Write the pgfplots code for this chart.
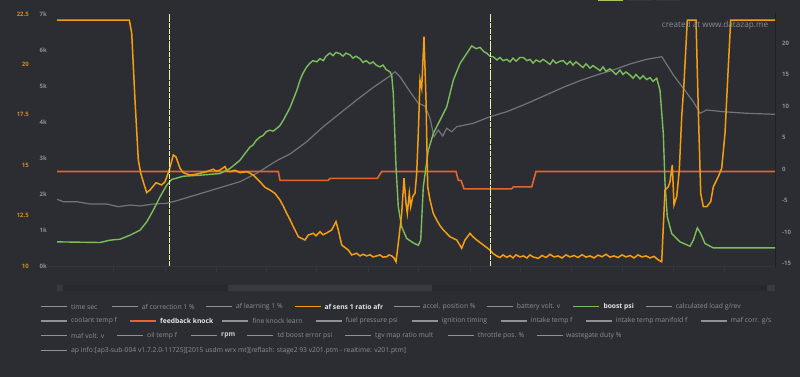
\documentclass[border=0pt]{standalone}
\usepackage{pgfplots}
\pgfplotsset{compat=1.18}
\usepackage{fontspec}
\setmainfont{Open Sans}
\definecolor{bg}{HTML}{2B2D32}
\definecolor{afr}{HTML}{F59E12}
\definecolor{boost}{HTML}{7CBE5A}
\definecolor{rpmc}{HTML}{727478}
\definecolor{knock}{HTML}{E4652F}
\definecolor{cursor}{HTML}{EEF5A0}
\definecolor{txt}{HTML}{8C9199}
\definecolor{legl}{HTML}{8E9197}
\definecolor{afrlab}{HTML}{D88C1E}
\definecolor{hi}{HTML}{E6E6E6}
\definecolor{hi2}{HTML}{D0D0D0}
\definecolor{track}{HTML}{26282D}
\definecolor{thumb}{HTML}{373A40}
\definecolor{tabg}{HTML}{A8C85A}
\definecolor{tabd}{HTML}{34363B}
\definecolor{faint}{HTML}{33363C}
\definecolor{axl}{HTML}{1E2024}
\definecolor{wm}{HTML}{8A8D93}
\pgfplotsset{base/.style={at={(57pt,111pt)}, anchor=south west, width=718pt, height=252pt,
  scale only axis, xmin=57, xmax=775, enlargelimits=false, hide x axis, axis x line=none,
  x axis line style={draw=none}, xtick=\empty,
  y axis line style={draw=none}, ytick style={draw=none}, major tick length=0pt,
  yticklabel style={font=\fontsize{6}{7}\selectfont\bfseries, inner sep=0pt}}}
\begin{document}
\begin{tikzpicture}[x=1pt,y=1pt]
\useasboundingbox (0,0) rectangle (800,377);
\fill[bg] (0,0) rectangle (800,377);
% top tabs
\fill[tabg] (598,375.6) rectangle (623,377);
\fill[tabd] (628,375.6) rectangle (652,377);
\fill[tabd] (657,375.6) rectangle (681,377);
% faint bottom line and ticks
\draw[faint, line width=0.6pt] (47,110.5) -- (775,110.5);
\foreach \xx in {113.3,165,216.7,266.7,316.7,368.3,418.3,470,520,571,622,673,724} {\draw[faint, line width=0.6pt] (\xx,105) -- (\xx,110.5);}
% right axis line
\draw[axl, line width=0.8pt] (775,110) -- (775,364);
% rpm axis
\begin{axis}[base, ymin=0, ymax=7000, axis y line*=left,
  ytick={0,1000,2000,3000,4000,5000,6000,7000},
  yticklabels={0k,1k,2k,3k,4k,5k,6k,7k},
  yticklabel style={anchor=east, xshift=-10pt, text=txt}]
\addplot[rpmc, line width=1.2pt] coordinates {
(57,1853)(63.3,1786)(76.7,1786)(90,1722)(106.7,1722)(118.3,1647)(130,1694)(140,1667)
(153.3,1722)(166.7,1742)(176.7,1814)(190,1925)(206.7,2064)(223.3,2203)(240,2342)
(256.7,2575)(276.7,2925)(290,3111)(300,3314)(306.7,3453)(323.3,3870)(340,4242)
(356.7,4611)(373.3,4964)(390,5278)(395,5397)(400,5259)(410,4842)(418.3,4520)(425,4444)
(430,4103)(434,3592)(438.3,3778)(442.7,3611)(446.7,3825)(451.7,3731)(456.7,3870)
(473.3,3964)(490,4148)(506.7,4286)(523.3,4472)(540,4675)(563.3,4964)(580,5148)
(596.7,5306)(613.3,5445)(630,5612)(646.7,5742)(661.7,5814)(665,5675)(673.3,5306)
(683.3,4936)(693.3,4564)(700,4242)(706.7,4334)(723.3,4286)(746.7,4242)(775,4214)};
\end{axis}
% psi axis (right)
\begin{axis}[base, ymin=-15, ymax=25, axis y line*=right,
  ytick={-15,-10,-5,0,5,10,15,20},
  yticklabels={-15,-10,-5,0,5,10,15,20},
  yticklabel style={anchor=base west, xshift=7pt, text=txt}]
\addplot[knock, line width=1.6pt] coordinates {
(57,0)(278.3,0)(280,-1.4)(328.3,-1.4)(330,-1.1)(377.3,-1.1)(381.7,0)(456,0)(458.3,-1.4)
(461,-1.4)(464,-2.75)(511.7,-2.75)(513.3,-2.45)(531.7,-2.45)(536,0)(775,0)};
\addplot[boost, line width=1.4pt] coordinates {
(57,-11.17)(100,-11.27)(110,-10.9)(120,-10.75)(130,-10.11)(140,-9.32)(146.7,-8.0)
(153.3,-6.14)(160,-4.03)(166.7,-2.17)(171.7,-1.27)(183.3,-0.75)(200,-0.59)(220,-0.32)
(230,0.48)(240,1.79)(250,3.9)(253,4.2)(256,4.9)(260,5.49)(263,5.7)(266,6.3)(270,6.56)(273,6.4)(276.7,6.83)
(280,7.3)(283.3,8.14)(290,10.13)(296.7,12.83)(300,14.49)(303,15.6)(306.7,16.6)
(310,17.2)(313,17.6)(316.7,17.4)(320,17.9)(323.3,17.6)(326,18.3)(330,18.8)(333,18.4)
(336,18.9)(340,18.7)(343,18.3)(346,18.8)(350,18.5)(353,18.0)(356,18.3)(360,17.9)
(363,17.3)(366,17.6)(370,17.1)(373,17.4)(376,16.9)(380,16.6)(383,16.9)(386,16.2)
(390,15.8)(391.7,15.29)(393.3,12.38)(396,0.73)(398.3,-5.62)(401.7,-8.79)(406.7,-10.63)
(413.3,-11.33)(418.3,-11.7)(420.7,-10.9)(423.3,-2.44)(428.3,3.38)(433.3,6.03)(440,8.14)
(446.7,10.25)(453.3,14.49)(460,17.14)(466.7,18.73)(471.7,19.94)(476,19.5)(480,19.7)
(484,19.0)(486.7,18.8)(490,18.3)(493.3,18.2)(497,17.7)(500,18.1)(503,17.6)(506.7,17.8)
(510,17.4)(513,18.0)(516,17.5)(520,18.1)(523.3,18.1)(527,17.6)(530,17.8)(533,17.2)
(536,17.7)(540,17.4)(543,17.8)(546.7,17.4)(550,17.0)(553,17.7)(556,17.2)(560,17.5)
(563.3,17.6)(567,17.0)(570,17.5)(573,16.9)(576,17.4)(580,16.9)(583,16.5)(586,17.1)
(590,16.4)(593,16.8)(596.7,16.4)(600,16.0)(603,16.6)(606,15.9)(610,16.3)(613.3,15.8)
(616,15.4)(620,16.1)(623,15.4)(626,15.8)(630,15.3)(633,14.8)(636,15.4)(640,14.7)
(643,15.2)(646.7,14.6)(650,14.9)(653,14.3)(656.7,14.8)(660,12.9)(663.3,6.03)(665,-1.9)
(667.3,-7.21)(671.7,-9.84)(680,-11.17)(690,-11.86)(693.3,-10.9)(697.3,-8.95)
(700.7,-9.84)(705,-11.43)(713.3,-12.13)(775,-12.13)};
\end{axis}
% AFR axis
\begin{axis}[base, ymin=10, ymax=22.5, axis y line*=left,
  ytick={10,12.5,15,17.5,20,22.5},
  yticklabels={10,12.5,15,17.5,20,22.5},
  yticklabel style={anchor=east, xshift=-28pt, text=afrlab}]
\addplot[afr, line width=1.5pt] coordinates {
(57,22.2)(129.3,22.2)(131.7,21.56)(135,18.23)(138.3,15.26)(140.7,14.61)(143.3,14.17)
(146.7,13.64)(150,13.77)(156,14.13)(161.7,14.02)(165,14.18)(169.3,14.76)(173.3,15.51)
(176,15.41)(180,14.85)(183.3,14.63)(190,14.51)(196.7,14.56)(206.7,14.68)(213.3,14.8)
(216,14.7)(220,14.76)(225,14.93)(227,14.72)(230,14.68)(235,14.75)(240,14.63)(246.7,14.68)
(250,14.6)(253.3,14.51)(260,14.18)(265,13.9)(270,13.77)(275,13.6)(280,13.27)(283,13.0)
(286.7,12.61)(290,12.3)(293.3,11.95)(296.7,11.62)(298.3,11.45)(305,11.29)(308.3,11.54)
(313.3,11.62)(316,11.5)(320,11.7)(323,11.55)(326.7,11.64)(331.7,11.79)(336,12.2)
(338.3,11.79)(341.7,11.04)(348.3,10.79)(351.7,10.55)(356.7,10.63)(360,10.5)(363,10.58)
(366.7,10.5)(370,10.56)(373,10.45)(376.7,10.5)(380,10.55)(383,10.44)(386.7,10.46)
(389,10.55)(391.7,10.5)(394,10.4)(396,10.21)(398.3,11.13)(401.7,12.61)(404,14.35)
(406,13.11)(407.3,12.61)(409.3,13.61)(410.7,12.94)(412.7,13.44)(415,13.61)(416.7,14.6)
(418.3,16.58)(420,19.23)(421.7,18.81)(424,21.37)(426,18.23)(427.7,13.93)(430,13.27)
(433.3,12.61)(436.7,12.28)(440,12.0)(443.3,11.79)(450,11.45)(456.7,11.29)(461.7,10.88)
(465,11.29)(470,11.62)(473,11.45)(476.7,11.29)(483.3,11.04)(490,10.79)(493,10.62)
(496.7,10.5)(500,10.42)(503,10.55)(506.7,10.43)(510,10.52)(513,10.4)(516,10.55)
(520,10.45)(523.3,10.5)(527,10.4)(530,10.55)(533,10.45)(538.3,10.38)(542,10.52)
(546,10.42)(550,10.58)(554,10.45)(558,10.5)(562,10.4)(566,10.55)(570,10.45)(574,10.52)
(578,10.42)(582,10.56)(586,10.44)(590,10.5)(594,10.4)(598,10.54)(602,10.46)(606,10.58)
(610,10.44)(614,10.5)(618,10.42)(622,10.55)(626,10.45)(630,10.52)(634,10.4)(638,10.55)
(642,10.45)(646,10.5)(650,10.4)(654,10.48)(658.3,10.3)(661.7,10.21)(665,13.77)
(668.3,13.93)(670,14.18)(672.3,15.01)(674,13.03)(676.7,13.44)(679.3,14.76)(681.7,17.41)
(684,19.06)(687.3,22.2)(696,22.2)(698.3,17.74)(700.7,13.61)(703.3,12.94)(706.7,12.94)
(710.7,13.19)(713.3,13.93)(718.3,14.43)(721.7,14.85)(725,16.58)(728.3,19.89)(730.7,22.2)
(775,22.2)};
\addplot[cursor, line width=1.4pt, dash pattern=on 5pt off 0.8pt] coordinates {(169.3,10)(169.3,22.5)};
\addplot[cursor, line width=1.4pt, dash pattern=on 5pt off 0.8pt] coordinates {(490.7,10)(490.7,22.5)};
\end{axis}
% watermark
\node[anchor=west, inner sep=0pt, text=wm, font=\fontsize{8.2}{9}\selectfont] at (661.7,352) {created at www.datazap.me};
% scrollbar
\fill[track] (57,86) rectangle (775,92);
\fill[thumb] (228.3,86) rectangle (432.3,92);
\fill[thumb] (57,86) rectangle (63,92);
\fill[thumb] (767,86) rectangle (775,92);
% legend
\tikzset{lg/.style={line width=1.1pt, legl}, lt/.style={anchor=west, inner sep=0pt, text=txt, font=\fontsize{6.75}{8}\selectfont}, lb/.style={anchor=west, inner sep=0pt, text=hi, font=\fontsize{6.75}{8}\selectfont\bfseries}}
% row 1
\draw[lg] (40.7,70.3) -- (66.7,70.3); \node[lt] at (71,70.3) {time sec};
\draw[lg] (111.7,70.3) -- (137.7,70.3); \node[lt] at (141.7,70.3) {af correction 1 \%};
\draw[lg] (206,70.3) -- (232.3,70.3); \node[lt] at (236,70.3) {af learning 1 \%};
\draw[lg, afr, line width=1.5pt] (295,70.3) -- (320.7,70.3); \node[lb] at (324.3,70.3) {af sens 1 ratio afr};
\draw[lg] (394,70.3) -- (420,70.3); \node[lt] at (422.7,70.3) {accel. position \%};
\draw[lg] (486.7,70.3) -- (512.7,70.3); \node[lt] at (516.7,70.3) {battery volt. v};
\draw[lg, boost, line width=1.5pt] (573.3,70.3) -- (599.3,70.3); \node[lb] at (603.3,70.3) {boost psi};
\draw[lg] (645.7,70.3) -- (671.7,70.3); \node[lt] at (675.7,70.3) {calculated load g/rev};
% row 2
\draw[lg] (40.7,56) -- (66.7,56); \node[lt] at (71,56) {coolant temp f};
\draw[lg, knock, line width=1.5pt] (130,56) -- (156,56); \node[lb] at (160,56) {feedback knock};
\draw[lg] (222.3,56) -- (248.3,56); \node[lt] at (252.3,56) {fine knock learn};
\draw[lg] (315.7,56) -- (341.7,56); \node[lt] at (345.7,56) {fuel pressure psi};
\draw[lg] (411.7,56) -- (437.7,56); \node[lt] at (441.7,56) {ignition timing};
\draw[lg] (500.7,56) -- (526.7,56); \node[lt] at (530.7,56) {intake temp f};
\draw[lg] (585.7,56) -- (611.7,56); \node[lt] at (615.7,56) {intake temp manifold f};
\draw[lg] (700.7,56) -- (726.7,56); \node[lt] at (730.7,56) {maf corr. g/s};
% row 3
\draw[lg] (40.7,41.3) -- (66.7,41.3); \node[lt] at (71,41.3) {maf volt. v};
\draw[lg] (117.3,41.3) -- (143.3,41.3); \node[lt] at (147,41.3) {oil temp f};
\draw[lg] (190.7,41.3) -- (216.7,41.3); \node[lb, text=hi2] at (221,41.3) {rpm};
\draw[lg] (247.3,41.3) -- (273.3,41.3); \node[lt] at (277.3,41.3) {td boost error psi};
\draw[lg] (345,41.3) -- (371,41.3); \node[lt] at (375,41.3) {tgv map ratio mult};
\draw[lg] (447.7,41.3) -- (473.7,41.3); \node[lt] at (477.7,41.3) {throttle pos. \%};
\draw[lg] (536.7,41.3) -- (562.7,41.3); \node[lt] at (566,41.3) {wastegate duty \%};
% row 4
\draw[lg] (40.7,26.7) -- (66.7,26.7); \node[lt] at (71,26.7) {ap info:[ap3-sub-004 v1.7.2.0-11725][2015 usdm wrx mt][reflash: stage2 93 v201.ptm - realtime: v201.ptm]};
\end{tikzpicture}
\end{document}
